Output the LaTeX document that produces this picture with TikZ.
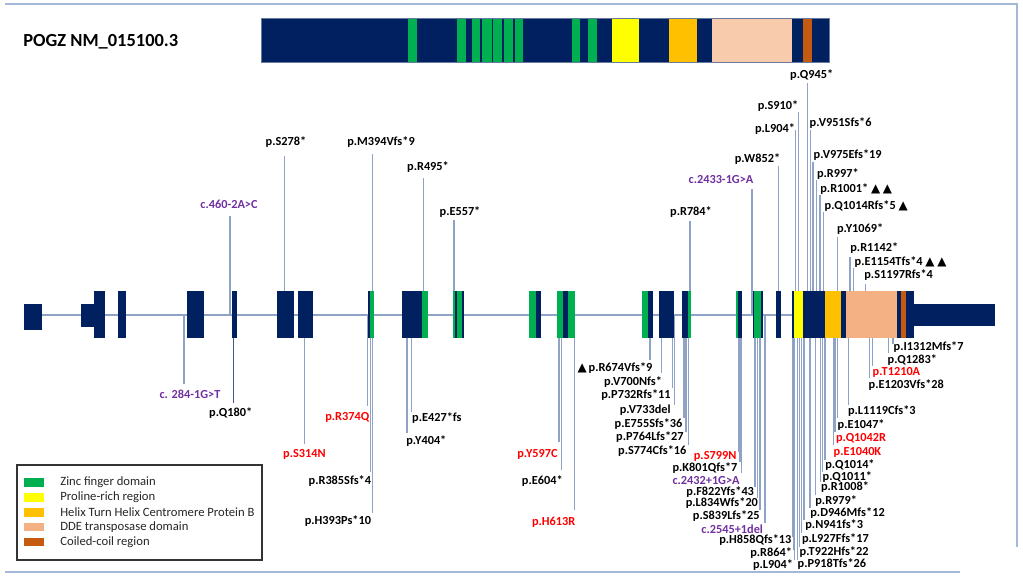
\documentclass[tikz,border=0pt]{standalone}
\usepackage{fontspec}
\setmainfont{Carlito}
\newfontfamily\symfont{DejaVu Sans}
\definecolor{exonnavy}{HTML}{002060}
\definecolor{zfgreen}{HTML}{00B050}
\definecolor{proyellow}{HTML}{FFFF00}
\definecolor{hthorange}{HTML}{FFC000}
\definecolor{ddepeach}{HTML}{F4B183}
\definecolor{ddelight}{HTML}{F8CBAD}
\definecolor{ccbrown}{HTML}{C55A11}
\definecolor{stemblue}{HTML}{8FA3C6}
\definecolor{frameblue}{HTML}{A3B8D6}
\definecolor{mutred}{HTML}{FF0000}
\definecolor{mutpurple}{HTML}{7030A0}
\newcommand{\tri}{{\symfont\fontsize{6.8}{7}\selectfont ▲}}
\tikzset{
  lab/.style={font=\bfseries\fontsize{7}{8}\selectfont, inner sep=0pt},
  legtext/.style={font=\fontsize{7.2}{8}\selectfont, inner sep=0pt, text=black!85},
  stem/.style={draw=stemblue, line width=0.6pt},
  frame/.style={draw=frameblue, line width=0.6pt},
  intron/.style={draw=stemblue, line width=0.7pt}
}

\begin{document}
\begin{tikzpicture}[x=0.02cm,y=-0.02cm]
        \useasboundingbox (0,0) rectangle (1023,577);

        % rahmen
        \draw[frame] (5,4) -- (1017,4) -- (1017,547);
        \draw[frame] (5,572) -- (960,572);

        % titel
        \node[lab, font=\bfseries\fontsize{10.5}{12}\selectfont, anchor=west] (gene) at (23,41.7) {POGZ NM\_015100.3};

        % protein
        \fill[exonnavy] (261,18) rectangle (829.3,62);
        \foreach \a/\b in {408/416.7, 457.3/465.7, 471.7/480, 482.3/491.7, 493/501.7,
                           503.7/512.7, 515/522.7, 571.7/580, 588.3/596.7}
            \fill[zfgreen] (\a,18) rectangle (\b,62);
        \fill[proyellow] (612.3,18) rectangle (639,62);
        \fill[hthorange] (669,18) rectangle (697.3,62);
        \fill[ddelight] (712,18) rectangle (792,62);
        \fill[ccbrown] (802.7,18) rectangle (811.7,62);
        \draw[draw=exonnavy!60, line width=0.4pt] (261,18) rectangle (829.3,62);

        % intron
        \draw[intron] (42,315) -- (914,315);

        % mutationen: linie x / linie ende y / text x / text y / anker / farbe / text
        \foreach \lx/\ly/\tx/\ty/\an/\col/\txt [count=\i] in {
            230/215.7/229/204/center/mutpurple/c.460-2A>C,
            284.3/156/286/141.7/center/black/p.S278*,
            372.3/154.3/381/141.7/center/black/p.M394Vfs*9,
            423.3/178.3/428/166.7/center/black/p.R495*,
            454/220/460/211.7/center/black/p.E557*,
            690/220.7/691/211.7/center/black/p.R784*,
            752/189.3/721/180/center/mutpurple/c.2433-1G>A,
            778.7/165.7/757.5/159.3/center/black/p.W852*,
            795.7/130/775/129.3/center/black/p.L904*,
            798.3/112.3/778/105.7/center/black/p.S910*,
            807.3/83.3/811.7/75/center/black/p.Q945*,
            810.3/130/809.3/123.3/west/black/p.V951Sfs*6,
            813/161.7/813.3/155/west/black/p.V975Efs*19,
            816.3/180/816.7/174/west/black/p.R997*,
            820/195/820/189/west/black/p.R1001*\ \tri\ \tri,
            823.3/211.7/824.3/205.7/west/black/p.Q1014Rfs*5\ \tri,
            837.3/236.7/836.7/229.3/west/black/p.Y1069*,
            850/256.7/850/248.3/west/black/p.R1142*,
            853.3/268.3/854.3/261.7/west/black/p.E1154Tfs*4\ \tri\ \tri,
            865.7/284/864/275/west/black/p.S1197Rfs*4,
            184/384.3/190/394.3/center/mutpurple/c. 284-1G>T,
            233.9/402.7/230.7/412.7/center/black/p.Q180*,
            304.6/444/304.4/454.3/center/mutred/p.S314N,
            367.9/405.7/369.6/417.7/east/mutred/p.R374Q,
            370.4/471.7/371.4/481/east/black/p.R385Sfs*4,
            372.5/513.3/371.4/521/east/black/p.H393Ps*10,
            411.8/411.7/411.8/417.7/west/black/p.E427*fs,
            407/433.3/406/441/west/black/p.Y404*,
            559/442.3/558/454.3/east/mutred/p.Y597C,
            561.7/470/563/481/east/black/p.E604*,
            574.3/510/575.7/522.7/east/mutred/p.H613R,
            650/360/652.7/367.7/east/black/\tri\kern1pt p.R674Vfs*9,
            661.7/373.3/662.3/382.3/east/black/p.V700Nfs*,
            672.3/388.3/671/395/east/black/p.P732Rfs*11,
            674.3/405/671/410/east/black/p.V733del,
            684/418.3/682.7/424/east/black/p.E755Sfs*36,
            686/431.7/684/437.3/east/black/p.P764Lfs*27,
            688.3/445/686.7/450.7/east/black/p.S774Cfs*16,
            739/451.7/736.7/456/east/mutred/p.S799N,
            740/461.7/737.7/467.7/east/black/p.K801Qfs*7,
            741.7/473.3/740/480.7/east/mutpurple/c.2432+1G>A,
            755/486.7/754.3/491.7/east/black/p.F822Yfs*43,
            757.7/498.3/758.3/503.3/east/black/p.L834Wfs*20,
            760/510/760/515.7/east/black/p.S839Lfs*25,
            765/523.3/763.3/529/east/mutpurple/c.2545+1del,
            792.3/536.7/791.7/540/east/black/p.H858Qfs*13,
            793.3/550/792.3/553.3/east/black/p.R864*,
            794.7/560/793.3/565/east/black/p.L904*,
            893/344/893.3/347.3/west/black/p.I1312Mfs*7,
            888.3/353.3/887.3/360/west/black/p.Q1283*,
            872.3/366/872.3/372.3/west/mutred/p.T1210A,
            869.3/378/868.3/385/west/black/p.E1203Vfs*28,
            848.3/405/847.7/411/west/black/p.L1119Cfs*3,
            837.3/418.3/837.3/425/west/black/p.E1047*,
            835/431.7/835.7/438.3/west/mutred/p.Q1042R,
            833.3/445/833.3/452.3/west/mutred/p.E1040K,
            825/460/825/465/west/black/p.Q1014*,
            822.3/471.7/822.3/476.7/west/black/p.Q1011*,
            820.7/481.7/820.7/486.7/west/black/p.R1008*,
            815.7/495/815/501/west/black/p.R979*,
            810/508.3/810/513.3/west/black/p.D946Mfs*12,
            804/520/805/525/west/black/p.N941fs*3,
            801.7/533.3/801.7/539.3/west/black/p.L927Ffs*17,
            799.3/547/799.3/552.3/west/black/p.T922Hfs*22,
            797.3/560/797.3/564.3/west/black/p.P918Tfs*26}
        {
            \coordinate (s\i) at (\lx,\ly);
            \coordinate (g\i) at (\lx,315);
            \draw[stem] (s\i) -- (g\i);
            \node[lab, text=\col, anchor=\an] (m\i) at (\tx,\ty) {\txt};
        }
        % p.Q180* dunkler
        \draw[stem, draw=exonnavy!75] (s22) -- (g22);

        % exons
        \fill[exonnavy] (24,304) rectangle (42,330);
        \fill[exonnavy] (80.7,304) rectangle (94.3,327);
        \fill[exonnavy] (914,304) rectangle (995,326);
        \foreach \a/\b in {94.3/105, 117.7/126, 186.7/204, 232.3/237.3, 276.7/294,
                           297.7/313.3, 368/373.7, 402.3/428.3, 452.7/464, 529.3/540.7,
                           557.3/575.3, 641.7/652.7, 659/674, 682.3/691, 736.3/741.7,
                           753.3/763.3, 776/781, 791.7/914.3}
            \fill[exonnavy] (\a,291) rectangle (\b,338);
        \foreach \a/\b in {370/373.7, 422.3/428.3, 452.7/455, 456.7/461.7, 529.3/536,
                           557.3/563.3, 567.7/575.3, 641.7/647.7, 687.7/691, 736.3/737.7,
                           754/761}
            \fill[zfgreen] (\a,291) rectangle (\b,338);
        \fill[proyellow] (794.3,291) rectangle (803,338);
        \fill[hthorange] (825.3,291) rectangle (841.3,338);
        \fill[ddepeach] (845.7,291) rectangle (896.7,338);
        \fill[ccbrown] (900.7,291) rectangle (905.7,338);

        % legende
        \draw[black!80, line width=0.7pt] (17,465) rectangle (262,560);
        \foreach \c/\y/\t [count=\k] in {zfgreen/482.3/Zinc finger domain,
                                         proyellow/497.3/Proline-rich region,
                                         hthorange/512.3/Helix Turn Helix Centromere Protein B,
                                         ddepeach/526.7/DDE transposase domain,
                                         ccbrown/541.7/Coiled-coil region}
        {
            \fill[fill=\c] (23.6,\y-4.2) rectangle (43.9,\y+4.2);
            \node[legtext, anchor=west] (leg\k) at (60,\y) {\t};
        }
    \end{tikzpicture}
\end{document}
